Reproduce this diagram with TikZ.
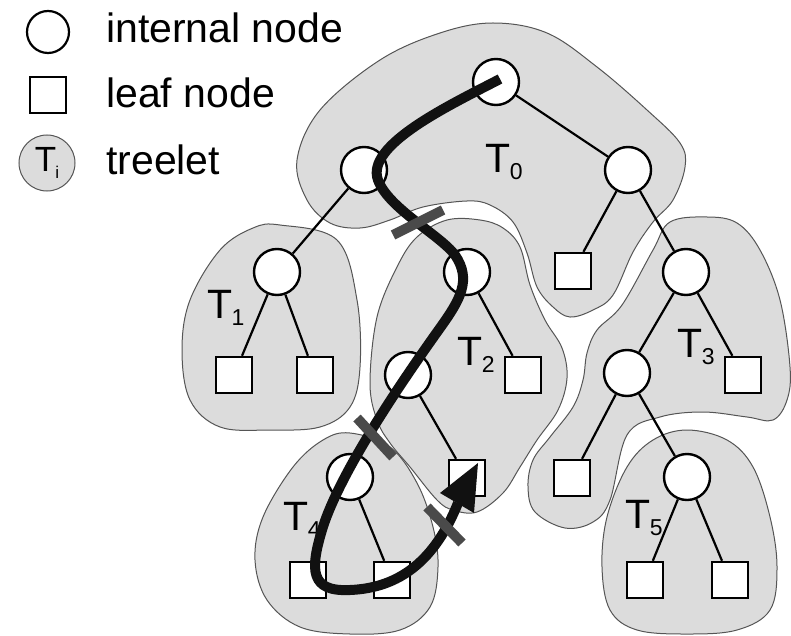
\documentclass[tikz,border=0pt]{standalone}
\usepackage{fontspec}
\setmainfont{Liberation Sans}
\definecolor{blobfill}{HTML}{DCDCDC}
\definecolor{blobline}{HTML}{555555}
\definecolor{cutcol}{HTML}{4A4A4A}
\definecolor{pathcol}{HTML}{111111}
\newcommand{\Tsub}[1]{T\kern-0.5pt\raisebox{-7pt}{\fontsize{23}{23}\selectfont #1}}
\tikzset{
  inode/.style={circle,draw,fill=white,line width=2.4pt,minimum size=46pt,inner sep=0pt},
  leafnode/.style={rectangle,draw,fill=white,line width=2.4pt,minimum size=36pt,inner sep=0pt},
  blob/.style={fill=blobfill,draw=blobline,line width=1pt},
  treeedge/.style={line width=2.2pt},
  cutmark/.style={line width=10pt,draw=cutcol},
  route/.style={draw=pathcol,line width=10pt,line join=round},
  lbl/.style={anchor=base west,inner sep=0pt,font=\fontsize{41}{48}\selectfont},
  leg/.style={anchor=base west,inner sep=0pt,font=\fontsize{41}{48}\selectfont}
}
\begin{document}
\begin{tikzpicture}[x=1pt,y=-1pt]
\useasboundingbox (0,0) rectangle (791,636);
% treelet blobs
\draw[blob] plot[smooth cycle,tension=0.6] coordinates {
 (297,160) (320,110) (380,60) (440,33) (493,23) (547,33) (597,67) (647,110) (680,143) (685,167) (673,200) (653,222) (633,252) (613,295) (593,310) (570,317) (553,307) (537,287) (527,253) (513,222) (490,205) (467,201) (423,207) (390,220) (360,228) (330,223) (307,200)};
\draw[blob] plot[smooth cycle,tension=0.6] coordinates {
 (280,225) (337,240) (357,300) (360,367) (350,407) (320,427) (270,430) (220,427) (190,400) (182,350) (190,300) (220,250) (253,228)};
\draw[blob] plot[smooth cycle,tension=0.6] coordinates {
 (447,220) (480,220) (503,228) (520,247) (530,285) (545,320) (562,348) (567,378) (558,410) (537,440) (520,467) (503,493) (477,512) (453,510) (437,500) (410,467) (390,443) (377,420) (370,383) (377,317) (397,267) (417,237)};
\draw[blob] plot[smooth cycle,tension=0.6] coordinates {
 (350,433) (390,447) (417,483) (433,527) (438,567) (430,607) (400,630) (350,634) (300,627) (267,600) (255,560) (263,517) (293,467) (323,440)};
\draw[blob] plot[smooth cycle,tension=0.6] coordinates {
 (707,217) (737,223) (760,250) (780,300) (790,367) (787,400) (773,420) (747,417) (703,412) (660,417) (627,435) (610,500) (593,522) (565,528) (535,512) (528,487) (533,460) (550,437) (573,407) (583,380) (587,353) (597,330) (622,305) (653,250) (670,222)};
\draw[blob] plot[smooth cycle,tension=0.6] coordinates {
 (687,430) (727,440) (753,467) (770,517) (777,567) (770,610) (737,630) (687,634) (637,630) (610,610) (602,567) (607,517) (627,467) (653,440)};
% legend
\node[inode,line width=2.2pt,minimum size=42pt] (legI) at (48,32) {};
\node[leafnode,line width=2.2pt,minimum size=36pt] (legL) at (48,95) {};
\node[circle,blob,minimum size=56pt,inner sep=0pt,font=\fontsize{35}{35}\selectfont] (legT) at (47,163) {T\kern-1pt\raisebox{-7pt}{\fontsize{17}{17}\selectfont i}};
\node[leg] (legIt) at (106,43) {internal node};
\node[leg] (legLt) at (106,108) {leaf node};
\node[leg] (legTt) at (106,175) {treelet};
% tree nodes
\node[inode] (r) at (496,82) {};
\node[inode] (a) at (364,170) {};
\node[inode] (b) at (628,170) {};
\node[leafnode] (b1) at (573,271) {};
\node[inode] (c) at (277,272) {};
\node[leafnode] (c1) at (234,375) {};
\node[leafnode] (c2) at (315,375) {};
\node[inode] (d) at (467,272) {};
\node[inode] (d1) at (408,375) {};
\node[leafnode] (d2) at (523,375) {};
\node[leafnode] (d3) at (467,478) {};
\node[inode] (e) at (350,477) {};
\node[leafnode] (e1) at (308,580) {};
\node[leafnode] (e2) at (392,580) {};
\node[inode] (f) at (686,272) {};
\node[inode] (f1) at (627,373) {};
\node[leafnode] (f2) at (743,375) {};
\node[leafnode] (f3) at (572,478) {};
\node[inode] (g) at (687,477) {};
\node[leafnode] (g1) at (645,580) {};
\node[leafnode] (g2) at (730,580) {};
% edges (those along the traversal are hidden under it)
\draw[treeedge] (r) -- (b);
\draw[treeedge] (a) -- (c);
\draw[treeedge] (b) -- (b1);
\draw[treeedge] (b) -- (f);
\draw[treeedge] (c) -- (c1);
\draw[treeedge] (c) -- (c2);
\draw[treeedge] (d) -- (d2);
\draw[treeedge] (d1) -- (d3);
\draw[treeedge] (e) -- (e2);
\draw[treeedge] (f) -- (f1);
\draw[treeedge] (f) -- (f2);
\draw[treeedge] (f1) -- (f3);
\draw[treeedge] (f1) -- (g);
\draw[treeedge] (g) -- (g1);
\draw[treeedge] (g) -- (g2);
% treelet labels
\node[lbl] (t0) at (485,173) {\Tsub{0}};
\node[lbl] (t1) at (207,318) {\Tsub{1}};
\node[lbl] (t2) at (457,365) {\Tsub{2}};
\node[lbl] (t3) at (677,357) {\Tsub{3}};
\node[lbl] (t4) at (283,530) {\Tsub{4}};
\node[lbl] (t5) at (625,528) {\Tsub{5}};
% traversal path
\coordinate (ps) at (500,79);
\coordinate (pe) at (458,503);
\draw[route] (ps) .. controls (450,105) and (365,145) .. (378,180)
  .. controls (388,208) and (440,235) .. (455,255)
  .. controls (472,280) and (460,300) .. (440,328)
  .. controls (410,370) and (340,470) .. (322,530)
  .. controls (310,570) and (310,592) .. (350,590)
  .. controls (400,588) and (435,560) .. (pe);
\coordinate (tip) at (478,463);
\coordinate (hb1) at (440,493);
\coordinate (hb2) at (474,513);
\fill[pathcol] (tip) -- (hb1) -- (hb2) -- cycle;
% cut marks
\coordinate (k1a) at (393,235); \coordinate (k1b) at (443,210);
\coordinate (k2a) at (357,418); \coordinate (k2b) at (393,457);
\coordinate (k3a) at (427,507); \coordinate (k3b) at (462,543);
\draw[cutmark] (k1a) -- (k1b);
\draw[cutmark] (k2a) -- (k2b);
\draw[cutmark] (k3a) -- (k3b);
\end{tikzpicture}
\end{document}
